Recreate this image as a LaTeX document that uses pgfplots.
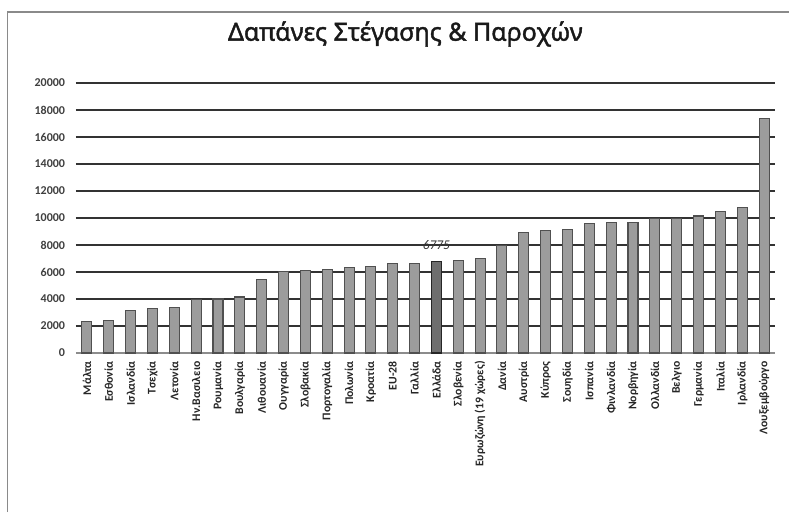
\documentclass[border=0pt]{standalone}
\usepackage{fontspec}
\setmainfont{Carlito}
\newfontfamily\titlefont{Noto Sans}[FakeBold=1.6]
\usepackage{pgfplots}
\pgfplotsset{compat=1.18}

\definecolor{barfill}{HTML}{9C9C9C}
\definecolor{baredge}{HTML}{505050}
\definecolor{grfill}{HTML}{6E6E6E}
\definecolor{framecol}{HTML}{8A8A8A}

\pgfplotstableread{
x val
0 2300
1 2375
2 3125
3 3300
4 3375
5 3950
6 4000
7 4150
8 5475
9 6050
10 6100
11 6175
12 6300
13 6425
14 6650
15 6650
17 6850
18 7000
19 7950
20 8950
21 9050
22 9150
23 9600
24 9650
25 9700
26 9950
27 9975
28 10150
29 10475
30 10750
31 17350
}\expdata

\begin{document}
\begin{tikzpicture}
% page = 789 x 512 px, 1 px = 0.75pt
\useasboundingbox (0,0) rectangle (591.75pt,384pt);
\fill[white] (0,0) rectangle (591.75pt,384pt);
\draw[framecol, line width=1.4pt] (5.6pt,0pt) -- (5.6pt,375pt) -- (591.75pt,375pt);
\node[font=\titlefont\fontsize{18.7}{21}\selectfont, text=black!90] at (304pt,358.5pt) {Δαπάνες Στέγασης \& Παροχών};

\begin{axis}[
  at={(57pt,119.25pt)}, anchor=south west,
  scale only axis, width=524.25pt, height=202.5pt,
  xmin=-0.5, xmax=31.5, ymin=0, ymax=20000,
  axis line style={draw=none},
  ybar, bar width=7.5pt, bar shift=0pt,
  ytick={2000,4000,...,20000},
  extra y ticks={0},
  extra y tick style={grid style={black!45, line width=1pt}},
  ymajorgrids, grid style={black!80, line width=1.1pt},
  major tick length=0pt,
  scaled y ticks=false,
  xtick={0,...,31},
  xticklabels={Μάλτα, Εσθονία, Ισλανδία, Τσεχία, Λετονία, Ην.Βασιλειο, Ρουμανία, Βουλγαρία, Λιθουανία, Ουγγαρία, Σλοβακία, Πορτογαλία, Πολωνία, Κροατία, EU-28, Γαλλία, Ελλάδα, Σλοβενία, Ευρωζώνη (19 χώρες), Δανία, Αυστρία, Κύπρος, Σουηδία, Ισπανία, Φινλανδία, Νορβηγία, Ολλανδία, Βελγιο, Γερμανία, Ιταλία, Ιρλανδία, Λουξεμβούργο},
  xticklabel style={rotate=90, anchor=east, font=\fontsize{8.8}{9}\selectfont\bfseries, text=black!85},
  yticklabel style={font=\fontsize{9}{10}\selectfont\bfseries, text=black!75},
  /pgf/number format/1000 sep={},
  /pgf/number format/assume math mode=true,
  tick label style={inner sep=2pt},
  xticklabel shift=4pt,
  yticklabel shift=6pt,
  clip=false,
]
\addplot[fill=barfill, draw=baredge, line width=0.8pt] table[x=x, y=val] {\expdata};
\addplot[fill=grfill, draw=black!85, line width=0.8pt,
  nodes near coords={\itshape 6775},
  every node near coord/.append style={font=\fontsize{10}{11}\selectfont, text=black!80, anchor=center, yshift=12.4pt}]
  coordinates {(16,6775)};
\end{axis}
\end{tikzpicture}
\end{document}
